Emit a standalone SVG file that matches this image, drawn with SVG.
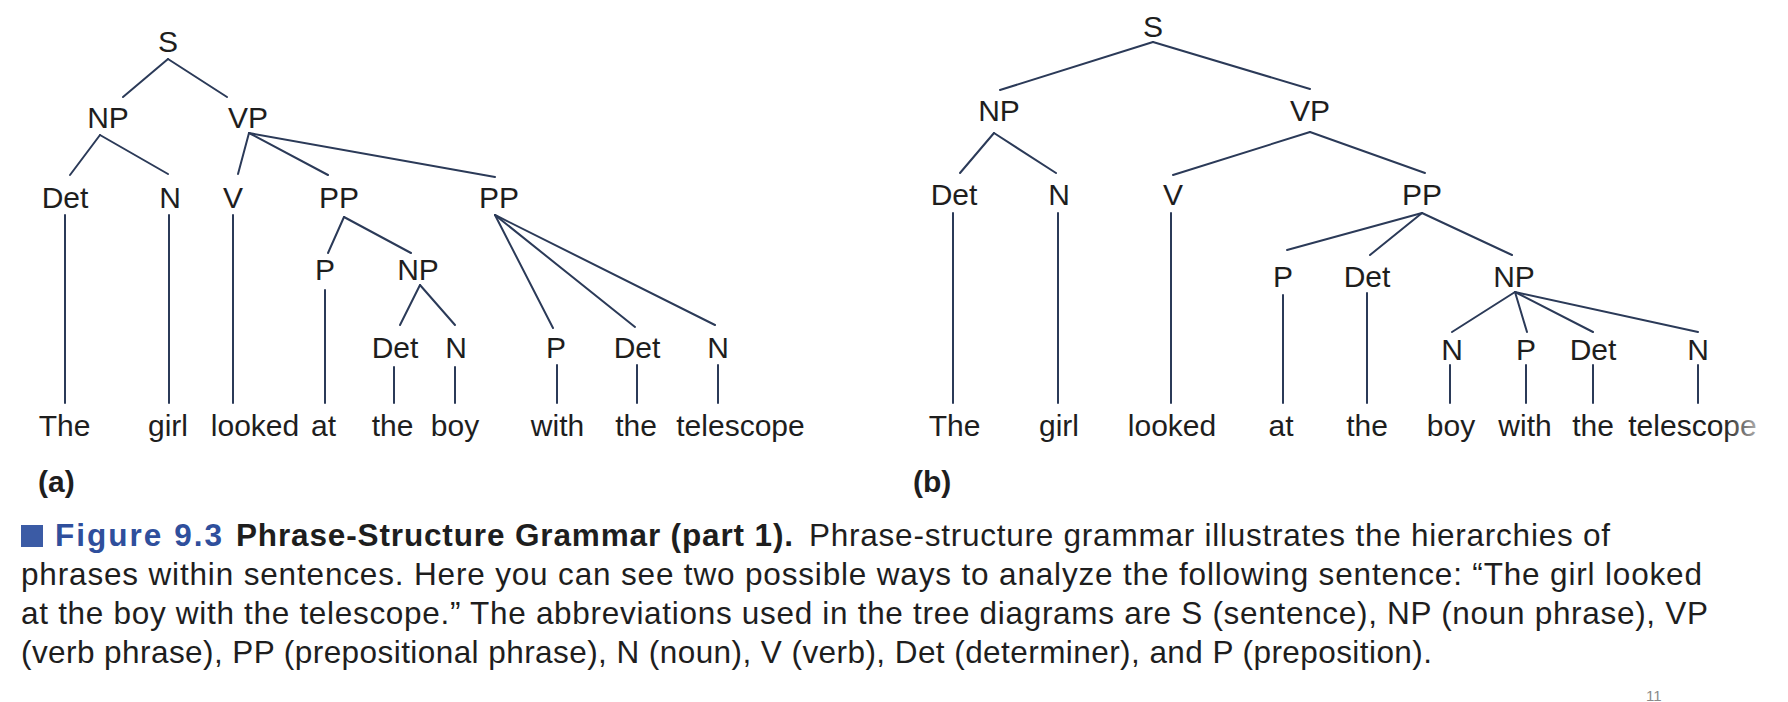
<svg xmlns="http://www.w3.org/2000/svg" width="1788" height="702" viewBox="0 0 1788 702">
<style>
.lb{font-family:"Liberation Sans",Arial,sans-serif;font-size:30px;fill:#1e1e1e;text-anchor:middle}
.wd{font-family:"Liberation Sans",Arial,sans-serif;font-size:30px;fill:#1e1e1e;text-anchor:middle}
.cap{font-family:"Liberation Sans",Arial,sans-serif;font-size:31.5px;fill:#1e1e1e}
.tag{font-family:"Liberation Sans",Arial,sans-serif;font-size:30px;fill:#1e1e1e;font-weight:bold}
.bd{font-weight:bold}
.edges line{stroke:#2b3a58;stroke-width:2;stroke-linecap:round}
</style>
<defs>
<linearGradient id="fade" x1="1622" y1="0" x2="1763" y2="0" gradientUnits="userSpaceOnUse">
<stop offset="0" stop-color="#1e1e1e"/><stop offset="0.72" stop-color="#1e1e1e"/><stop offset="1" stop-color="#c8c8c8"/>
</linearGradient>
</defs>
<rect width="1788" height="702" fill="#ffffff"/>

<g id="connectors" class="edges">
<!-- tree a -->
<line x1="168" y1="59" x2="123" y2="97"/>
<line x1="168" y1="59" x2="227" y2="97"/>
<line x1="100" y1="135" x2="70" y2="175"/>
<line x1="100" y1="135" x2="168" y2="174"/>
<line x1="249" y1="133" x2="238" y2="174"/>
<line x1="249" y1="133" x2="328" y2="175"/>
<line x1="249" y1="133" x2="495" y2="177"/>
<line x1="344" y1="217" x2="328" y2="253"/>
<line x1="344" y1="217" x2="411" y2="253"/>
<line x1="420" y1="285" x2="400" y2="325"/>
<line x1="420" y1="285" x2="455" y2="325"/>
<line x1="495" y1="215" x2="553" y2="328"/>
<line x1="495" y1="215" x2="635" y2="327"/>
<line x1="495" y1="215" x2="715" y2="325"/>
<line x1="65" y1="215" x2="65" y2="403"/>
<line x1="169" y1="215" x2="169" y2="403"/>
<line x1="233" y1="215" x2="233" y2="403"/>
<line x1="325" y1="290" x2="325" y2="403"/>
<line x1="394" y1="367" x2="394" y2="403"/>
<line x1="455" y1="367" x2="455" y2="403"/>
<line x1="557" y1="365" x2="557" y2="403"/>
<line x1="637" y1="365" x2="637" y2="403"/>
<line x1="718" y1="365" x2="718" y2="403"/>
<!-- tree b -->
<line x1="1153" y1="42" x2="1000" y2="90"/>
<line x1="1153" y1="42" x2="1310" y2="89"/>
<line x1="994" y1="133" x2="960" y2="173"/>
<line x1="994" y1="133" x2="1056" y2="173"/>
<line x1="1310" y1="132" x2="1173" y2="175"/>
<line x1="1310" y1="132" x2="1425" y2="173"/>
<line x1="1422" y1="213" x2="1287" y2="250"/>
<line x1="1422" y1="213" x2="1370" y2="255"/>
<line x1="1422" y1="213" x2="1512" y2="255"/>
<line x1="1515" y1="292" x2="1452" y2="332"/>
<line x1="1515" y1="292" x2="1527" y2="332"/>
<line x1="1515" y1="292" x2="1593" y2="332"/>
<line x1="1515" y1="292" x2="1698" y2="332"/>
<line x1="953" y1="213" x2="953" y2="403"/>
<line x1="1058" y1="213" x2="1058" y2="403"/>
<line x1="1171" y1="213" x2="1171" y2="403"/>
<line x1="1283" y1="295" x2="1283" y2="403"/>
<line x1="1367" y1="293" x2="1367" y2="403"/>
<line x1="1450" y1="365" x2="1450" y2="403"/>
<line x1="1526" y1="365" x2="1526" y2="403"/>
<line x1="1593" y1="365" x2="1593" y2="403"/>
<line x1="1698" y1="365" x2="1698" y2="403"/>
</g>

<g id="tree-a">
<g id="a-S"><text class="lb" x="168" y="52">S</text></g>
<g id="a-NP"><text class="lb" x="108" y="128">NP</text></g>
<g id="a-VP"><text class="lb" x="248" y="128">VP</text></g>
<g id="a-Det1"><text class="lb" x="65" y="208">Det</text></g>
<g id="a-N1"><text class="lb" x="170" y="208">N</text></g>
<g id="a-V"><text class="lb" x="233" y="208">V</text></g>
<g id="a-PP1"><text class="lb" x="339" y="208">PP</text></g>
<g id="a-PP2"><text class="lb" x="499" y="208">PP</text></g>
<g id="a-P1"><text class="lb" x="325" y="280">P</text></g>
<g id="a-NP2"><text class="lb" x="418" y="280">NP</text></g>
<g id="a-Det2"><text class="lb" x="395" y="358">Det</text></g>
<g id="a-N2"><text class="lb" x="456" y="358">N</text></g>
<g id="a-P2"><text class="lb" x="556" y="358">P</text></g>
<g id="a-Det3"><text class="lb" x="637" y="358">Det</text></g>
<g id="a-N3"><text class="lb" x="718" y="358">N</text></g>
<g id="a-words">
<text class="wd" x="64.5" y="436">The</text>
<text class="wd" x="168" y="436">girl</text>
<text class="wd" x="255" y="436">looked</text>
<text class="wd" x="323.5" y="436">at</text>
<text class="wd" x="392.5" y="436">the</text>
<text class="wd" x="455" y="436">boy</text>
<text class="wd" x="557.5" y="436">with</text>
<text class="wd" x="636" y="436">the</text>
<text class="wd" x="740.5" y="436">telescope</text>
</g>
<text class="tag" x="38" y="492">(a)</text>
</g>

<g id="tree-b">
<g id="b-S"><text class="lb" x="1153" y="37">S</text></g>
<g id="b-NP"><text class="lb" x="999" y="121">NP</text></g>
<g id="b-VP"><text class="lb" x="1310" y="121">VP</text></g>
<g id="b-Det1"><text class="lb" x="954" y="205">Det</text></g>
<g id="b-N1"><text class="lb" x="1059" y="205">N</text></g>
<g id="b-V"><text class="lb" x="1173" y="205">V</text></g>
<g id="b-PP"><text class="lb" x="1422" y="205">PP</text></g>
<g id="b-P1"><text class="lb" x="1283" y="287">P</text></g>
<g id="b-Det2"><text class="lb" x="1367" y="287">Det</text></g>
<g id="b-NP2"><text class="lb" x="1514" y="287">NP</text></g>
<g id="b-N2"><text class="lb" x="1452" y="360">N</text></g>
<g id="b-P2"><text class="lb" x="1526" y="360">P</text></g>
<g id="b-Det3"><text class="lb" x="1593" y="360">Det</text></g>
<g id="b-N3"><text class="lb" x="1698" y="360">N</text></g>
<g id="b-words">
<text class="wd" x="954.5" y="436">The</text>
<text class="wd" x="1059" y="436">girl</text>
<text class="wd" x="1172" y="436">looked</text>
<text class="wd" x="1281" y="436">at</text>
<text class="wd" x="1367" y="436">the</text>
<text class="wd" x="1451" y="436">boy</text>
<text class="wd" x="1525" y="436">with</text>
<text class="wd" x="1593" y="436">the</text>
<text class="wd" x="1692.5" y="436" style="fill:url(#fade)">telescope</text>
</g>
<text class="tag" x="913" y="492">(b)</text>
</g>

<g id="caption">
<rect x="21" y="525" width="22" height="22" fill="#3b5ba5"/>
<text class="cap bd" x="55" y="546" textLength="167" style="fill:#2f4f9c">Figure 9.3</text>
<text class="cap bd" x="236" y="546" textLength="557">Phrase-Structure Grammar (part 1).</text>
<text class="cap" x="809" y="546" textLength="801">Phrase-structure grammar illustrates the hierarchies of</text>
<text class="cap" x="21" y="585" textLength="1681">phrases within sentences. Here you can see two possible ways to analyze the following sentence: “The girl looked</text>
<text class="cap" x="21" y="624" textLength="1687">at the boy with the telescope.” The abbreviations used in the tree diagrams are S (sentence), NP (noun phrase), VP</text>
<text class="cap" x="21" y="663" textLength="1411">(verb phrase), PP (prepositional phrase), N (noun), V (verb), Det (determiner), and P (preposition).</text>
<text x="1646" y="701" style="font-family:'Liberation Sans',Arial,sans-serif;font-size:15px;fill:#8a8a8a">11</text>
</g>
</svg>
